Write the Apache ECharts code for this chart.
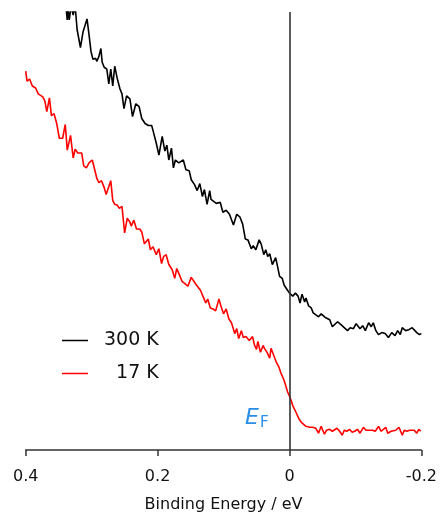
<!DOCTYPE html>
<html>
<head>
<meta charset="utf-8">
<script src="https://cdn.jsdelivr.net/npm/echarts@6/dist/echarts.min.js"></script>
<style>
  html, body { margin: 0; padding: 0; background: #fff; }
  #chart { width: 440px; height: 518px; }
</style>
</head>
<body>
<div id="chart"></div>
<script>
// binding energy (eV) and intensity (arb. units)
const energy300 = [
  0.339, 0.337, 0.336, 0.334, 0.331, 0.328, 0.325, 0.322, 0.317, 0.313,
  0.310, 0.307, 0.304, 0.301, 0.298, 0.294, 0.292, 0.289, 0.286, 0.284,
  0.281, 0.277, 0.274, 0.271, 0.268, 0.265, 0.261, 0.257, 0.254, 0.251,
  0.247, 0.242, 0.238, 0.233, 0.228, 0.224, 0.219, 0.214, 0.209, 0.207,
  0.202, 0.198, 0.193, 0.189, 0.186, 0.183, 0.179, 0.176, 0.173, 0.168,
  0.161, 0.157, 0.152, 0.149, 0.144, 0.140, 0.136, 0.132, 0.129, 0.125,
  0.121, 0.119, 0.111, 0.105, 0.101, 0.096, 0.091, 0.085, 0.080, 0.075,
  0.071, 0.067, 0.063, 0.058, 0.055, 0.051, 0.046, 0.043, 0.039, 0.036,
  0.033, 0.030, 0.026, 0.021, 0.019, 0.015, 0.011, 0.008, 0.004, 0.000,
  -0.005, -0.009, -0.013, -0.016, -0.019, -0.023, -0.025, -0.029, -0.033, -0.036,
  -0.040, -0.044, -0.048, -0.050, -0.055, -0.061, -0.065, -0.068, -0.073, -0.078,
  -0.083, -0.088, -0.092, -0.097, -0.101, -0.107, -0.111, -0.115, -0.120, -0.124,
  -0.127, -0.131, -0.135, -0.140, -0.145, -0.150, -0.155, -0.160, -0.164, -0.168,
  -0.171, -0.176, -0.181, -0.186, -0.189, -0.193, -0.197, -0.200
]
const intensity300 = [
  450, 436, 450, 436, 450, 441, 450, 426, 408, 424,
  426, 437, 421, 404, 396, 397, 394, 399, 407, 393,
  388, 386, 371, 386, 369, 389, 376, 366, 361, 346,
  359, 356, 338, 351, 348, 336, 331, 329, 329, 324,
  311, 299, 318, 303, 309, 294, 306, 286, 294, 291,
  294, 284, 283, 274, 269, 263, 270, 257, 264, 249,
  263, 254, 250, 251, 241, 243, 239, 228, 239, 236,
  229, 214, 213, 204, 207, 203, 213, 209, 198, 203,
  196, 199, 188, 195, 189, 176, 174, 167, 163, 159,
  156, 159, 156, 149, 158, 150, 154, 146, 144, 139,
  137, 135, 138, 140, 134, 132, 125, 125, 130, 127,
  124, 121, 124, 123, 128, 123, 126, 121, 129, 125,
  129, 121, 117, 119, 118, 114, 119, 116, 121, 117,
  124, 121, 122, 124, 126, 119, 117, 118
]
const energy17 = [
  0.400, 0.398, 0.394, 0.390, 0.385, 0.381, 0.378, 0.374, 0.371, 0.368,
  0.364, 0.361, 0.357, 0.353, 0.349, 0.344, 0.340, 0.337, 0.332, 0.328,
  0.325, 0.321, 0.315, 0.312, 0.308, 0.304, 0.299, 0.292, 0.289, 0.285,
  0.281, 0.278, 0.271, 0.268, 0.265, 0.261, 0.258, 0.254, 0.250, 0.246,
  0.242, 0.240, 0.236, 0.232, 0.227, 0.224, 0.220, 0.214, 0.211, 0.207,
  0.202, 0.198, 0.194, 0.191, 0.187, 0.183, 0.178, 0.174, 0.171, 0.166,
  0.163, 0.159, 0.154, 0.149, 0.145, 0.142, 0.139, 0.135, 0.132, 0.130,
  0.127, 0.124, 0.120, 0.116, 0.112, 0.107, 0.104, 0.100, 0.096, 0.092,
  0.088, 0.083, 0.080, 0.077, 0.073, 0.070, 0.066, 0.061, 0.056, 0.053,
  0.050, 0.048, 0.044, 0.040, 0.038, 0.034, 0.030, 0.028, 0.024, 0.020,
  0.016, 0.013, 0.009, 0.006, 0.003, -0.001, -0.005, -0.010, -0.014, -0.018,
  -0.021, -0.025, -0.028, -0.031, -0.035, -0.040, -0.044, -0.048, -0.053, -0.056,
  -0.061, -0.065, -0.068, -0.072, -0.076, -0.080, -0.083, -0.087, -0.091, -0.095,
  -0.099, -0.103, -0.107, -0.112, -0.116, -0.121, -0.126, -0.130, -0.135, -0.139,
  -0.142, -0.146, -0.149, -0.154, -0.157, -0.161, -0.166, -0.171, -0.174, -0.178,
  -0.182, -0.185, -0.189, -0.193, -0.196, -0.199, -0.200
]
const intensity17 = [
  384, 374, 376, 369, 367, 361, 363, 358, 354, 343,
  357, 339, 341, 331, 316, 316, 330, 304, 319, 296,
  305, 301, 301, 288, 286, 291, 294, 275, 271, 273,
  266, 259, 273, 253, 249, 248, 245, 247, 220, 235,
  231, 227, 233, 224, 224, 221, 209, 214, 203, 206,
  198, 204, 189, 196, 198, 188, 183, 174, 184, 176,
  171, 169, 166, 175, 171, 168, 166, 162, 164, 154,
  149, 153, 144, 143, 141, 153, 146, 138, 143, 133,
  129, 118, 123, 113, 121, 114, 115, 111, 115, 106,
  102, 110, 99, 106, 103, 99, 93, 103, 96, 89,
  84, 78, 72, 66, 59, 53, 45, 38, 32, 28,
  29, 24, 26, 23, 23, 22, 17, 24, 16, 20,
  21, 19, 21, 22, 19, 15, 20, 19, 21, 18,
  19, 21, 17, 23, 20, 20, 20, 19, 24, 19,
  20, 23, 17, 19, 19, 20, 23, 15, 20, 19,
  20, 18, 20, 17, 21, 19, 19
]
const xTicks = [-0.2, 0, 0.2, 0.4]
const fermiLevel = 0

const font = 'DejaVu Sans'
const chart = echarts.init(document.getElementById('chart'))

chart.setOption({
  animation: false,
  grid: { left: 25.7, right: 17.7, top: 12, bottom: 62 },
  title: {
    text: '{e|E}{f|F}',
    left: 245,
    top: 406,
    padding: 0,
    textStyle: {
      fontWeight: 'normal',
      rich: {
        e: { fontFamily: font, fontSize: 22, fontStyle: 'italic', fontWeight: 'normal', color: '#2a8ee6' },
        f: { fontFamily: font, fontSize: 15, fontWeight: 'normal', color: '#2a8ee6', padding: [10, 0, 0, 1] }
      }
    }
  },
  legend: {
    orient: 'vertical',
    left: 62,
    top: 331,
    padding: 0,
    icon: 'rect',
    itemWidth: 26,
    itemHeight: 1.5,
    itemGap: 14,
    data: ['300 K', '17 K'],
    formatter: name => (name === '17 K' ? '\u2007' + name : name),
    textStyle: { fontFamily: font, fontSize: 19, color: '#111', padding: [0, 0, 0, 11] }
  },
  xAxis: {
    type: 'value',
    inverse: true,
    min: xTicks[0],
    max: xTicks[xTicks.length - 1],
    interval: 0.2,
    name: 'Binding Energy / eV',
    nameLocation: 'middle',
    nameGap: 47,
    nameTextStyle: { fontFamily: font, fontSize: 16, color: '#111' },
    axisLine: { lineStyle: { color: '#333', width: 1.5 } },
    axisTick: { length: 6, lineStyle: { color: '#333', width: 1.5 } },
    axisLabel: { fontFamily: font, fontSize: 16, color: '#111', margin: 19 },
    splitLine: { show: false }
  },
  yAxis: {
    type: 'value',
    min: 0,
    max: 444,
    show: false
  },
  series: [
    {
      name: '300 K',
      type: 'line',
      data: energy300.map((e, i) => [e, intensity300[i]]),
      showSymbol: false,
      symbol: 'none',
      clip: true,
      color: '#000',
      lineStyle: { color: '#000', width: 1.6 },
      markLine: {
        silent: true,
        symbol: 'none',
        label: { show: false },
        lineStyle: { color: '#333', width: 1.6, type: 'solid' },
        data: [{ xAxis: fermiLevel }]
      }
    },
    {
      name: '17 K',
      type: 'line',
      data: energy17.map((e, i) => [e, intensity17[i]]),
      showSymbol: false,
      symbol: 'none',
      clip: true,
      color: '#ff0000',
      lineStyle: { color: '#ff0000', width: 1.6 }
    }
  ]
})
</script>
</body>
</html>
